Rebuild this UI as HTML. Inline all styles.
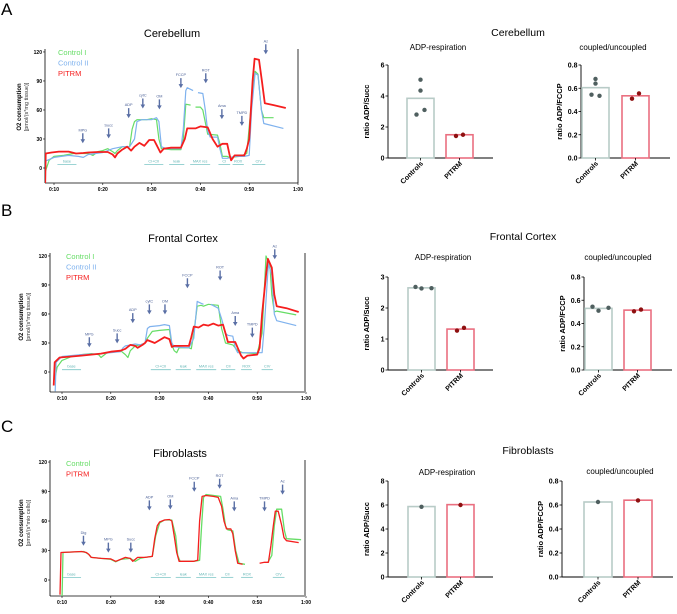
<!DOCTYPE html>
<html><head><meta charset="utf-8"><style>
html,body{margin:0;padding:0;background:#fff;}
svg{display:block;font-family:"Liberation Sans",sans-serif;}
</style></head><body>
<svg id="fig" width="677" height="614" viewBox="0 0 677 614" xmlns="http://www.w3.org/2000/svg"></svg>
<script>
// ===== Line chart data (time in minutes, O2 flux) =====
const aRedT=[8.2,8.3,9.5,11,13,14.5,16,17,19,21,22,22.5,23,24,25,25.8,26.5,27.5,28.5,29.5,30.5,31,31.8,32.5,34,36,36.8,37.3,39,40,41.5,42.5,43.5,44.5,45.5,46,46.3,47,49,49.5,50,50.7,51.1,52,52.6,53.2,55,57.5];
const aRedV=[-16,15,16,17,17,15,15.5,16,16.5,16.5,14,11,15,19,22,18,22,26,23,29,29,24,16,20,21,21,30,41,41,43,42,30,22,25,25,13,8,13,13,20,30,90,113,112,90,67,65,62];
const aBlueT=[8.2,10,13,15,16,17,20,22,24,25.5,26.5,27,28,30,31,31.5,32,33,36,36.5,37,37.3,38.5,null,39.5,40.5,41,41.5,42,43.5,44,44.5,45.5,47,49,50,50.5,51.2,51.8,52.5,53,57];
const aBlueV=[7,11,13,12,11,14,16,20,22,22,30,48,50,50,52,48,22,20,20,40,80,83,80,null,78,77,60,38,32,32,20,10,10,12,12,13,60,98,96,60,46,41];
const aGreenT=[8.2,9,10,12,14,17,18,19,20,21,22,22.5,23,24,25.5,26,26.5,27,29,30,31,31.5,32,34,36,36.5,37,38,null,39,40,40.5,41.5,43.5,44,44.5,45.5,46,48,49.5,50.5,51.2,51.8,52.5,53,55];
const aGreenV=[-4,8,12,13,15,15,13,17,18,20,17,15,18,22,22,40,48,50,50,51,50,30,20,19,19,30,66,65,null,63,63,60,35,34,25,12,12,11,12,15,70,100,97,60,52,52];

const bRedT=[8.3,8.5,9.5,12,14,16,18,20,22,23,24,25,25.5,26.5,27,27.5,28.5,29,30,31,32,32.5,33,34,36,36.5,37,38,39,40,41,42,43,43.5,44,45.5,46,46.7,47.2,48,50,50.5,51,51.8,52.2,53,53.5,54,56,58.5];
const bRedV=[-14,10,15,16,17,18,19,21,22,24,28,27,25,28,30,33,31,30,33,36,34,26,27,27,27,36,47,46,49,48,50,48,49,40,31,31,25,17,14,17,18,25,60,100,117,108,80,68,66,62];
const bBlueT=[8.6,8.8,10,14,18,20,22,22.5,23,25,26,27,27.5,28,30,31,32,32.5,33,36,37,37.7,38.5,39,null,40.5,42,42.7,43.5,44,45,45.5,46,48,51,51.5,52.3,53,53.5,54,58];
const bBlueV=[-20,10,16,18,19,20,21,25,27,29,28,30,45,47,48,49,48,30,26,25,35,73,71,70,null,70,66,55,40,38,37,25,20,20,20,50,112,100,60,53,48];
const bGreenT=[8.5,9,10,12,14,16,17.5,18,19,20,22,23,23.5,24,25,26,27,27.5,28.5,30,32,32.5,33,33.5,34,36,36.5,37,37.7,38.5,39,40,42,42.7,43.5,45,46,47,50,51,51.8,52.6,53,53.5,54,58];
const bGreenV=[-8,5,12,16,18,19,18,15,19,21,22,18,15,22,27,28,30,35,42,43,44,28,22,20,25,25,24,40,68,69,68,70,69,45,30,28,22,20,19,40,120,110,80,62,63,59];

const cRedT=[9.6,9.8,12,14,15,15.5,16,18,20,21,22,23,24,24.5,25,25.5,27,28.5,29,29.5,30,31,32,32.5,33,33.5,34,37,37.8,38.2,38.7,39.5,41,42,42.7,43.2,43.7,44.6,45,45.5,46,47,null,50.5,51.5,52.3,52.8,53.3,53.7,54.3,55,55.5,56,58.5];
const cRedV=[-15,28,28.5,29,28,26,23,22,21.5,19,21,23,22,19,21,23,23,24,42,55,59,61,61.5,60,45,28,19,19,20,60,85,86,85,84,75,60,52,52,47,30,17,16,null,17,18,18,35,55,70,70,56,43,40,38];
const cGreenT=[10,10.2,12,14.5,15.5,16,18,20,21,22,24,25,26,27,28.5,29.2,30,31,32.5,33.3,33.7,34.2,37,38.2,38.6,39,39.5,42.5,43,43.5,44,45,45.6,46.3,47.5,null,52.2,53,53.5,54,55,55.6,56,59];
const cGreenV=[-20,28,28.5,29,26,23,22,21,18.5,21,22,19,22,23,24,45,58,61,61,45,25,19,19,20,55,84,87,85,72,55,51,50,30,17,16,null,18,25,55,72,72,50,42,41];

// injection arrows: labels, times, label heights
const aArrowLabels=["MPG","Succ","ADP","cytC","OM","FCCP","ROT","Ama","TMPD","Az"];
const aArrowT=[15.9,21.2,25.3,28.2,31.6,36,41.1,44.4,48.5,53.4];
const aArrowV=[38,43,64,74,73,95,100,63,56,130];
const bArrowLabels=["MPG","Succ","ADP","cytC","OM","FCCP","ROT","Ama","TMPD","Az"];
const bArrowT=[15.6,21.3,24.5,27.9,31.1,35.7,42.4,45.5,49,53.6];
const bArrowV=[38,42,63,72,72,99,107,60,48,129];
const cArrowLabels=["Dig","MPG","Succ","ADP","OM","FCCP","ROT","Ama","TMPD","Az"];
const cArrowT=[14.4,19.5,24.1,27.9,32.2,37.1,42.3,45.3,51.5,55.2];
const cArrowV=[47,40,40,83,84,102,105,82,82,99];
// state segments
const aSegLabels=["base","CI+CII","leak","MAX res","CI","ROX","CIV"];
const aSegStart=[10.7,28.5,33.6,37.9,43.7,46.6,50.6];
const aSegEnd=[14.6,32.4,36.7,42,46.1,48.9,53.3];
const bSegLabels=["base","CI+CII","leak","MAX res","CII","ROX","CIV"];
const bSegStart=[10,28.2,33.3,37.5,42.6,46.7,50.9];
const bSegEnd=[13.9,32.3,36.4,41.6,45.5,48.9,53.2];
const cSegLabels=["base","CI+CII","leak","MAX res","CII","ROX","CIV"];
const cSegStart=[10,28.2,33.3,37.5,42.6,46.7,53.2];
const cSegEnd=[13.9,32.3,36.4,41.6,45.1,49.1,55.6];

const yTickVals=[0,30,60,90,120];
const xTickVals=[10,20,30,40,50,60];
const xTickLabels=["0:10","0:20","0:30","0:40","0:50","1:00"];

// ===== Bar chart data =====
const barCats=["Controls","PITRM"];
const aAdpMeans=[3.85,1.5];
const aAdpCtrlPts=[5.05,4.35,3.1,2.8];
const aAdpPitPts=[1.42,1.5];
const aCupMeans=[0.605,0.535];
const aCupCtrlPts=[0.68,0.64,0.535,0.545];
const aCupPitPts=[0.51,0.555];
const bAdpMeans=[2.65,1.32];
const bAdpCtrlPts=[2.68,2.63,2.64];
const bAdpPitPts=[1.27,1.36];
const bCupMeans=[0.53,0.515];
const bCupCtrlPts=[0.545,0.51,0.535];
const bCupPitPts=[0.505,0.52];
const cAdpMeans=[5.87,6.03];
const cAdpCtrlPts=[5.85];
const cAdpPitPts=[6.0];
const cCupMeans=[0.625,0.64];
const cCupCtrlPts=[0.625];
const cCupPitPts=[0.638];
const adpTicksA=[0,2,4,6], adpTicksB=[0,1,2,3], adpTicksC=[0,2,4,6,8];
const cupTicks=[0,0.2,0.4,0.6,0.8];

const NS="http://www.w3.org/2000/svg";
const fig=document.getElementById('fig');
function mk(tag,attrs,parent){const e=document.createElementNS(NS,tag);for(const k in attrs)e.setAttribute(k,attrs[k]);(parent||fig).appendChild(e);return e;}
function txt(s,x,y,attrs,parent){const e=mk('text',Object.assign({x:x,y:y},attrs),parent);e.textContent=s;return e;}

// panel letters & titles
[["A",15],["B",216],["C",432]].forEach(([l,y])=>{
  const t=txt(l,1,y,{'font-size':17});
  
  
});

function lineChart(o){
  const g=mk('g',{});
  
  
  const X=t=>o.x10+(t-10)*o.ppm, Y=v=>o.y0-v*o.ppu;
  const clipId=o.name+'-clip';
  const cp=mk('clipPath',{id:clipId},g);mk('rect',{x:o.ax,y:o.top-30,width:o.right-o.ax,height:o.bottom-o.top+30},cp);
  const title=txt(o.title,o.titleX,o.titleY,{'font-size':11,'text-anchor':'middle'},g);
  
  
  // axes
  const ya=mk('line',{x1:o.ax,y1:o.top,x2:o.ax,y2:o.bottom,stroke:'#000','stroke-width':0.8},g);
  
  
  const xa=mk('line',{x1:o.ax,y1:o.bottom,x2:o.right,y2:o.bottom,stroke:'#000','stroke-width':0.8},g);
  
  
  const rb=mk('line',{x1:o.right,y1:o.top,x2:o.right,y2:o.bottom,stroke:o.rightColor,'stroke-width':o.rightW},g);
  
  
  yTickVals.forEach(v=>{
    mk('line',{x1:o.ax-2,y1:Y(v),x2:o.ax,y2:Y(v),stroke:'#000','stroke-width':0.6},g);
    const t=txt(String(v),o.ax-3,Y(v)+2,{'font-size':5,'text-anchor':'end','font-weight':'bold'},g);
    
    
  });
  xTickVals.forEach((v,i)=>{
    mk('line',{x1:X(v),y1:o.bottom,x2:X(v),y2:o.bottom+2,stroke:'#000','stroke-width':0.6},g);
    const t=txt(xTickLabels[i],X(v),o.bottom+8,{'font-size':5,'text-anchor':'middle','font-weight':'bold'},g);
    
    
  });
  const yl=txt('O2 consumption',0,0,{'font-size':6,'font-weight':'bold','text-anchor':'middle',transform:`translate(${o.ylx},${o.ylc}) rotate(-90)`},g);
  
  
  const yu=txt(o.unit,0,0,{'font-size':5.5,'text-anchor':'middle',fill:'#333',transform:`translate(${o.ylx+7},${o.ylc}) rotate(-90)`},g);
  
  
  // segments
  o.segL.forEach((s,i)=>{
    const x1=X(o.segS[i]),x2=X(o.segE[i]),y=Y(o.segV);
    mk('line',{x1:x1,y1:y,x2:x2,y2:y,stroke:'#7cc6c6','stroke-width':0.8},g);
    const t=txt(s,(x1+x2)/2,y-2,{'font-size':3.8,'text-anchor':'middle',fill:'#5fb3b3'},g);
    
    
  });
  // arrows
  o.arL.forEach((s,i)=>{
    const x=X(o.arT[i]),y=Y(o.arV[i]);
    const t=txt(s,x,y,{'font-size':3.8,'text-anchor':'middle',fill:'#4a5f95'},g);
    
    
    const a=mk('path',{d:`M${x-0.7},${y+2} h1.4 v6 h1.6 l-2.3,4 l-2.3,-4 h1.6 z`,fill:'#5a6fa5'},g);
    
    
  });
  // series
  o.series.forEach(s=>{
    let d='',pen=false;
    s.t.forEach((t,i)=>{
      if(t===null||s.v[i]===null){pen=false;return;}
      d+=(pen?'L':'M')+X(t).toFixed(1)+','+Y(s.v[i]).toFixed(1)+' ';pen=true;
    });
    const p=mk('path',{d:d,fill:'none',stroke:s.c,'stroke-width':s.w,'stroke-linejoin':'round','clip-path':`url(#${clipId})`},g);
    
    
  });
  o.legend.forEach((l,i)=>{
    const t=txt(l[0],o.legX,o.legY+i*10.5,{'font-size':7.5,fill:l[1]},g);
    
    
  });
}
const GREEN='#66dd66',BLUE='#7fb2ee',RED='#f51e1e';
lineChart({name:'cerebellum-trace-chart',title:'Cerebellum',titleX:172,titleY:37,ax:45,top:49,bottom:183,right:298,rightColor:'#000',rightW:0.8,
  x10:54,ppm:4.88,y0:168,ppu:0.967,unit:'[pmol/(s*mg tissue)]',ylx:21,ylc:107,segV:3.5,
  segL:aSegLabels,segS:aSegStart,segE:aSegEnd,arL:aArrowLabels,arT:aArrowT,arV:aArrowV,legX:58,legY:55,
  legend:[['Control I',GREEN],['Control II',BLUE],['PITRM',RED]],
  series:[{name:'control-i-line',t:aGreenT,v:aGreenV,c:GREEN,w:1.2},{name:'control-ii-line',t:aBlueT,v:aBlueV,c:BLUE,w:1.2},{name:'pitrm-line',t:aRedT,v:aRedV,c:RED,w:1.8}]});
lineChart({name:'frontal-cortex-trace-chart',title:'Frontal Cortex',titleX:183,titleY:242,ax:50,top:253,bottom:392,right:305,rightColor:'#999',rightW:2,
  x10:62,ppm:4.88,y0:372,ppu:0.967,unit:'[pmol/(s*mg tissue)]',ylx:23,ylc:317,segV:2.4,
  segL:bSegLabels,segS:bSegStart,segE:bSegEnd,arL:bArrowLabels,arT:bArrowT,arV:bArrowV,legX:66,legY:259,
  legend:[['Control I',GREEN],['Control II',BLUE],['PITRM',RED]],
  series:[{name:'control-i-line',t:bGreenT,v:bGreenV,c:GREEN,w:1.2},{name:'control-ii-line',t:bBlueT,v:bBlueV,c:BLUE,w:1.2},{name:'pitrm-line',t:bRedT,v:bRedV,c:RED,w:1.8}]});
lineChart({name:'fibroblasts-trace-chart',title:'Fibroblasts',titleX:180,titleY:457,ax:50,top:460,bottom:596,right:305,rightColor:'#999',rightW:2,
  x10:62,ppm:4.88,y0:580,ppu:0.983,unit:'[pmol/(s*mio cells)]',ylx:23,ylc:523,segV:2.7,
  segL:cSegLabels,segS:cSegStart,segE:cSegEnd,arL:cArrowLabels,arT:cArrowT,arV:cArrowV,legX:66,legY:466,
  legend:[['Control',GREEN],['PITRM',RED]],
  series:[{name:'control-line',t:cGreenT,v:cGreenV,c:GREEN,w:1.3},{name:'pitrm-line',t:cRedT,v:cRedV,c:RED,w:1.3}]});

// section titles for bar groups
[['Cerebellum',518,36],['Frontal Cortex',523,240],['Fibroblasts',528,454]].forEach(([s,x,y])=>{
  const t=txt(s,x,y,{'font-size':10.5,'text-anchor':'middle'});
  
  
});

function barChart(o){
  const g=mk('g',{});
  
  
  const Y=v=>o.y0-(v/o.max)*(o.y0-o.ytop);
  const t0=txt(o.title,o.titleX,o.titleY,{'font-size':8,'text-anchor':'middle'},g);
  
  
  const ya=mk('line',{x1:o.ax,y1:o.ytop,x2:o.ax,y2:o.y0,stroke:'#000','stroke-width':0.9},g);
  
  
  const xa=mk('line',{x1:o.ax,y1:o.y0,x2:o.xend,y2:o.y0,stroke:'#000','stroke-width':0.9},g);
  
  
  o.ticks.forEach(v=>{
    mk('line',{x1:o.ax-2.5,y1:Y(v),x2:o.ax,y2:Y(v),stroke:'#000','stroke-width':0.8},g);
    const t=txt(o.fmt(v),o.ax-3.5,Y(v)+2.5,{'font-size':7,'text-anchor':'end','font-weight':'bold'},g);
    
    
  });
  const yl=txt(o.ylabel,0,0,{'font-size':7.5,'font-weight':'bold','text-anchor':'middle',transform:`translate(${o.ax-19},${(o.y0+o.ytop)/2}) rotate(-90)`},g);
  
  
  const cols=[['#b8cbc7','#4f5f5f'],['#ea6f80','#8e1010']];
  const pts=[o.ctrl,o.pit];
  barCats.forEach((c,i)=>{
    const x=o.bx[i],w=o.bw,cx=x+w/2;
    const b=mk('rect',{x:x,y:Y(o.means[i]),width:w,height:o.y0-Y(o.means[i]),fill:'#fff',stroke:cols[i][0],'stroke-width':1.6},g);
    
    
    mk('line',{x1:cx,y1:o.y0,x2:cx,y2:o.y0+2.5,stroke:'#000','stroke-width':0.8},g);
    const n=pts[i].length;
    pts[i].forEach((v,j)=>{
      const jit=n===1?0:(n===2?(j?3.5:-3.5):[0,0,4,-4][j%4]+(n===3?[-6,0,6][j]:0));
      const d=mk('circle',{cx:cx+jit,cy:Y(v),r:2.2,fill:cols[i][1]},g);
      
      
    });
    const t=txt(c,0,0,{'font-size':7,'font-weight':'bold','text-anchor':'end',transform:`translate(${cx+3},${o.y0+6}) rotate(-45)`},g);
    
    
  });
}
const f0=v=>String(v), f1=v=>v.toFixed(1);
barChart({name:'cerebellum-adp-chart',title:'ADP-respiration',titleX:438,titleY:50,ax:388,ytop:65,y0:158,xend:493,max:6,ticks:adpTicksA,fmt:f0,ylabel:'ratio ADP/Succ',bx:[407,446],bw:27,means:aAdpMeans,ctrl:aAdpCtrlPts,pit:aAdpPitPts});
barChart({name:'cerebellum-coupled-chart',title:'coupled/uncoupled',titleX:613,titleY:50,ax:581,ytop:65,y0:158,xend:670,max:0.8,ticks:cupTicks,fmt:f1,ylabel:'ratio ADP/FCCP',bx:[582,622],bw:27,means:aCupMeans,ctrl:aCupCtrlPts,pit:aCupPitPts});
barChart({name:'frontal-adp-chart',title:'ADP-respiration',titleX:443,titleY:260,ax:388,ytop:277,y0:370,xend:493,max:3,ticks:adpTicksB,fmt:f0,ylabel:'ratio ADP/Succ',bx:[408,447],bw:27,means:bAdpMeans,ctrl:bAdpCtrlPts,pit:bAdpPitPts});
barChart({name:'frontal-coupled-chart',title:'coupled/uncoupled',titleX:618,titleY:260,ax:584,ytop:277,y0:370,xend:672,max:0.8,ticks:cupTicks,fmt:f1,ylabel:'ratio ADP/FCCP',bx:[585,624],bw:27,means:bCupMeans,ctrl:bCupCtrlPts,pit:bCupPitPts});
barChart({name:'fibroblasts-adp-chart',title:'ADP-respiration',titleX:447,titleY:475,ax:388,ytop:481,y0:577,xend:493,max:8,ticks:adpTicksC,fmt:f0,ylabel:'ratio ADP/Succ',bx:[408,447],bw:27,means:cAdpMeans,ctrl:cAdpCtrlPts,pit:cAdpPitPts});
barChart({name:'fibroblasts-coupled-chart',title:'coupled/uncoupled',titleX:620,titleY:474,ax:562,ytop:481,y0:577,xend:673,max:0.8,ticks:cupTicks,fmt:f1,ylabel:'ratio ADP/FCCP',bx:[584,624],bw:28,means:cCupMeans,ctrl:cCupCtrlPts,pit:cCupPitPts});
</script>
</body></html>
